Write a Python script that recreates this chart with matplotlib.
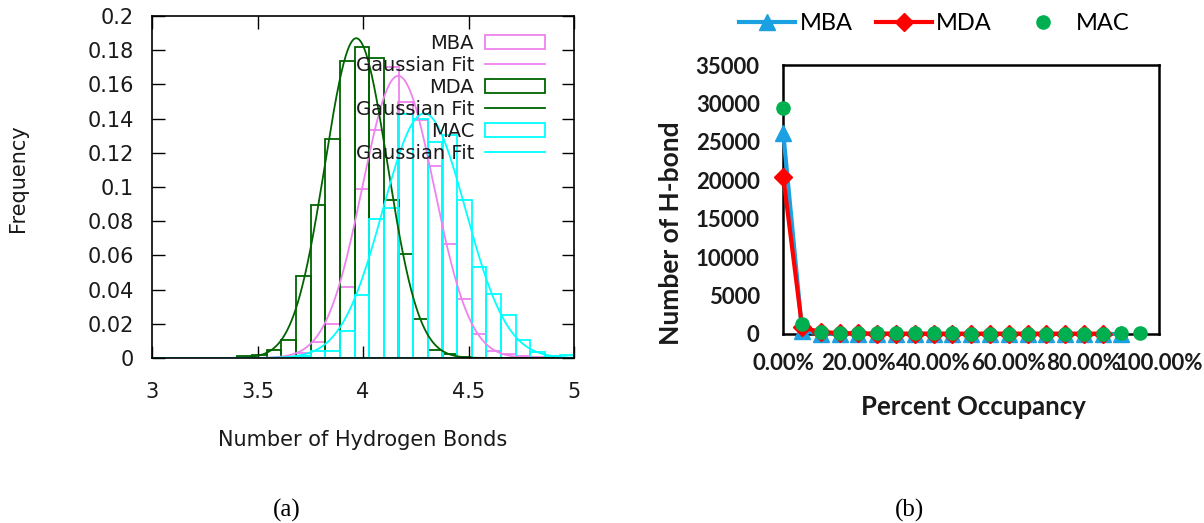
import numpy as np
import matplotlib.pyplot as plt
from matplotlib.patches import Patch
from matplotlib.lines import Line2D

# (a) histogram of hydrogen bond counts, one value per bin
bin_left = [3.405, 3.474, 3.544, 3.613, 3.683, 3.752, 3.821, 3.891, 3.960, 4.030,
            4.099, 4.168, 4.238, 4.307, 4.377, 4.446, 4.515, 4.585, 4.654, 4.724,
            4.793, 4.862, 4.932]
bin_width = 0.0694
mba_freq = [0, 0, 0, 0.0005, 0.003, 0.0095, 0.0197, 0.0413, 0.0988, 0.1335,
            0.170, 0.150, 0.139, 0.112, 0.0665, 0.0345, 0.014, 0.004, 0.0025, 0.001,
            0.0005, 0, 0]
mda_freq = [0.001, 0.0015, 0.0045, 0.0105, 0.048, 0.0895, 0.128, 0.1735, 0.182, 0.1755,
            0.0926, 0.061, 0.0228, 0.0047, 0.0023, 0.0005, 0, 0, 0, 0,
            0, 0, 0]
mac_freq = [0, 0, 0, 0, 0.001, 0.004, 0.004, 0.016, 0.037, 0.081,
            0.0875, 0.1425, 0.1396, 0.1265, 0.1304, 0.0926, 0.053, 0.0376, 0.025, 0.0107,
            0.0038, 0.0014, 0.002]
# gaussian fits: amplitude, mean, sigma
mba_fit = [0.165, 4.167, 0.170]
mda_fit = [0.187, 3.968, 0.148]
mac_fit = [0.143, 4.290, 0.196]

# (b) number of H-bonds vs percent occupancy
occupancy = [0.00, 0.05, 0.10, 0.15, 0.20, 0.25, 0.30, 0.35, 0.40, 0.45,
             0.50, 0.55, 0.60, 0.65, 0.70, 0.75, 0.80, 0.85, 0.90, 0.95]
mba_hb = [26100, 400, 40, 10, 5, 5, 5, 5, 5, 5, 5, 5, 5, 5, 5, 5, 5, 5, 5]
mda_hb = [20430, 860, 250, 120, 80, 60, 50, 50, 50, 40, 40, 40, 40, 40, 40, 40, 40, 40]
mac_hb = [29430, 1300, 300, 150, 100, 90, 80, 80, 70, 70, 60, 60, 60, 60, 60, 50, 50, 60, 80, 100]

W, H = 1204, 523
fig = plt.figure(figsize=(W / 100, H / 100), dpi=100, facecolor='white')

# ---------------- (a) ----------------
ax = fig.add_axes([152 / W, (H - 358) / H, 422 / W, 342 / H])
xs = np.linspace(3, 5, 600)
series = [('MBA', mba_freq, mba_fit, '#ee82ee'),
          ('MDA', mda_freq, mda_fit, '#006400'),
          ('MAC', mac_freq, mac_fit, '#00ffff')]
handles = []
for name, freq, fit, col in series:
    x = [b for b, f in zip(bin_left, freq) if f > 0]
    h = [f for f in freq if f > 0]
    ax.bar(x, h, width=bin_width, align='edge', fill=False, edgecolor=col, linewidth=1.3)
    a, mu, sd = fit
    ax.plot(xs, a * np.exp(-0.5 * ((xs - mu) / sd) ** 2), color=col, lw=1.3)
    handles.append(Patch(facecolor='none', edgecolor=col, linewidth=1.3, label=name))
    handles.append(Line2D([], [], color=col, lw=1.3, label='Gaussian Fit'))

ax.set_xlim(3, 5)
ax.set_ylim(0, 0.2)
ax.set_xticks([3, 3.5, 4, 4.5, 5])
ax.set_xticklabels(['3', '3.5', '4', '4.5', '5'])
ax.set_yticks(np.arange(0, 0.201, 0.02))
ax.set_yticklabels(['0', '0.02', '0.04', '0.06', '0.08', '0.1', '0.12', '0.14', '0.16', '0.18', '0.2'])
ax.tick_params(direction='in', length=9, width=1, top=True, right=True,
               labelsize=15, labelcolor='#1a1a1a')
ax.tick_params(axis='x', pad=17)
ax.tick_params(axis='y', pad=13)
for s in ax.spines.values():
    s.set_linewidth(1.2)
leg = ax.legend(handles=handles, loc='upper right', bbox_to_anchor=((545 - 152) / 422, 1 - 18 / 342),
                frameon=False, markerfirst=False, fontsize=14, handlelength=3.1,
                handletextpad=0.55, labelspacing=0.15, borderaxespad=0, borderpad=0)
for t in leg.get_texts():
    t.set_color('#1a1a1a')
fig.text(363 / W, 1 - 440 / H, 'Number of Hydrogen Bonds', ha='center', va='center',
         fontsize=15, color='#1a1a1a')
fig.text(18 / W, 1 - 178 / H, 'Frequency', ha='center', va='center', rotation=90,
         fontsize=15, color='#1a1a1a')

# ---------------- (b) ----------------
bx = fig.add_axes([783.3 / W, (H - 334) / H, 375.7 / W, 269 / H])
l1, = bx.plot(occupancy[:len(mba_hb)], mba_hb, color='#1ba1e2', lw=3, marker='^',
              markersize=12, label='MBA', clip_on=False, zorder=3)
l2, = bx.plot(occupancy[:len(mda_hb)], mda_hb, color='#ff0000', lw=3, marker='D',
              markersize=9, label='MDA', clip_on=False, zorder=4)
l3, = bx.plot(occupancy[:len(mac_hb)], mac_hb, color='#00b050', ls='none', marker='o',
              markersize=9.5, label='MAC', clip_on=False, zorder=5)
bx.set_xlim(0, 1)
bx.set_ylim(0, 35000)
bx.set_xticks([0, 0.2, 0.4, 0.6, 0.8, 1.0])
bx.set_xticklabels(['0.00%', '20.00%', '40.00%', '60.00%', '80.00%', '100.00%'])
bx.set_yticks(range(0, 35001, 5000))
bx.tick_params(length=0, labelsize=16, labelcolor='#1a1a1a')
bx.tick_params(axis='x', pad=14)
bx.tick_params(axis='y', pad=17)
for lab in bx.get_xticklabels() + bx.get_yticklabels():
    lab.set_family('Lato')
    lab.set_fontweight('bold')
for s in bx.spines.values():
    s.set_linewidth(1.8)
fig.legend(handles=[l1, l2, l3], loc='center', bbox_to_anchor=(934.5 / W, 1 - 23.3 / H),
           ncol=3, frameon=False, prop={'family': 'Lato', 'size': 17},
           handlelength=2.35, handletextpad=0.2, columnspacing=1.0)
fig.text(973 / W, 1 - 407 / H, 'Percent Occupancy', ha='center', va='center',
         fontsize=18.5, family='Lato', fontweight='bold', color='#1a1a1a')
fig.text(671 / W, 1 - 233 / H, 'Number of H-bond', ha='center', va='center', rotation=90,
         fontsize=19, family='Lato', fontweight='bold', color='#1a1a1a')

# captions
fig.text(287 / W, 1 - 510 / H, '(a)', ha='center', va='center', fontsize=18, family='Liberation Serif')
fig.text(910 / W, 1 - 510 / H, '(b)', ha='center', va='center', fontsize=18, family='Liberation Serif')

fig.savefig('out.png', dpi=100, facecolor='white')
